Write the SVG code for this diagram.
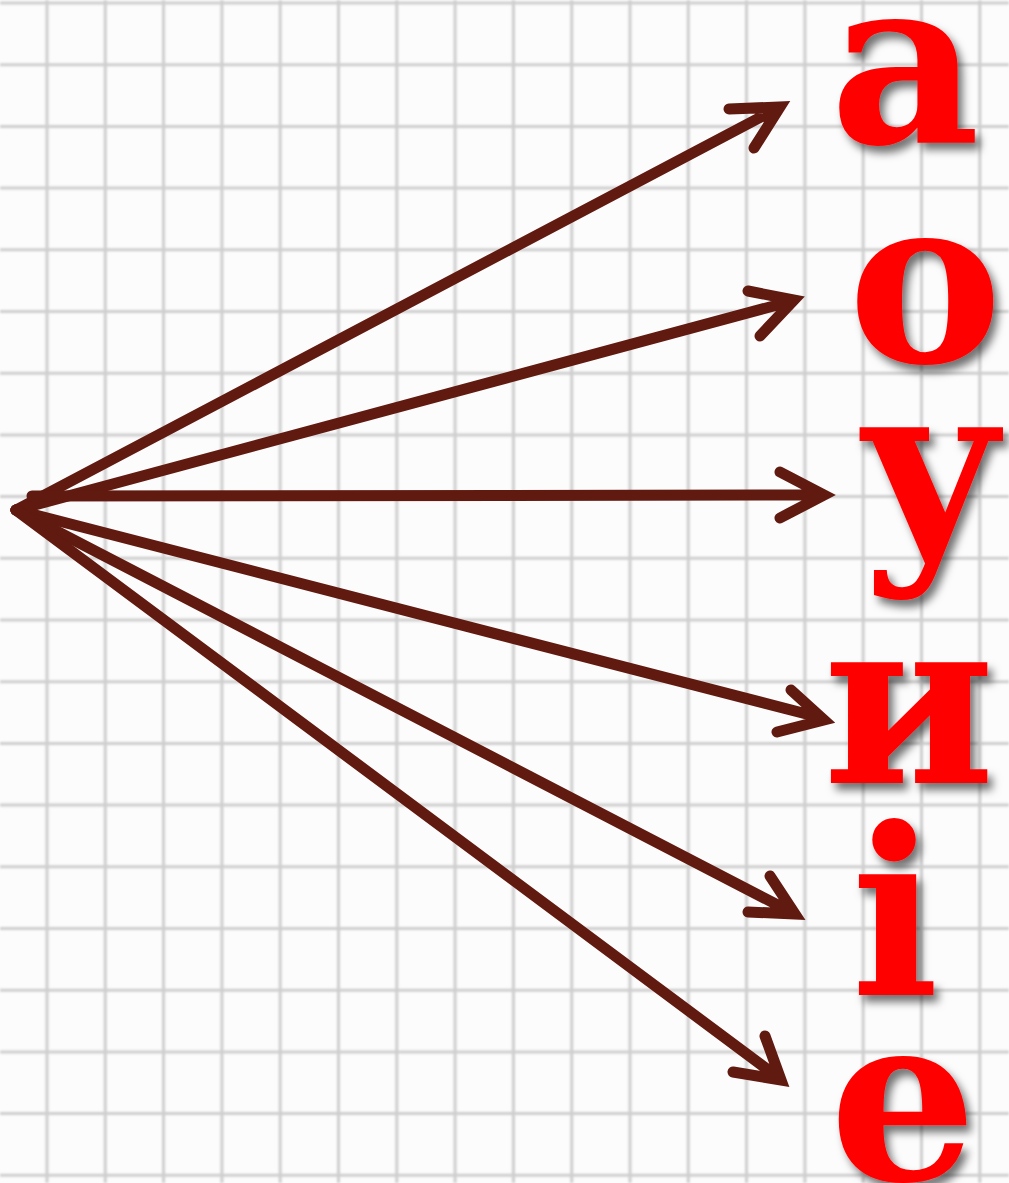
<svg xmlns="http://www.w3.org/2000/svg" width="1009" height="1183" viewBox="0 0 1009 1183">
<style>
.grid{stroke:#c6c6c6;stroke-width:3;fill:none;opacity:0.85}
.arr{stroke:#611a10;stroke-width:11;fill:none;stroke-linecap:round;stroke-linejoin:miter}
.let{font-family:"DejaVu Serif","Liberation Serif",serif;font-weight:bold;font-size:232px;fill:#ff0000;text-anchor:middle}
</style>
<defs>
<filter id="sh" x="-20%" y="-20%" width="150%" height="150%">
<feDropShadow dx="5" dy="7" stdDeviation="4" flood-color="#000" flood-opacity="0.55"/>
</filter>
<filter id="soft"><feGaussianBlur stdDeviation="0.8"/></filter>
</defs>
<rect width="1009" height="1183" fill="#fdfcfd"/>
<g id="grid" class="grid" filter="url(#soft)">
<path d="M47 0V1183M105.3 0V1183M163.6 0V1183M221.9 0V1183M280.2 0V1183M338.5 0V1183M396.8 0V1183M455.1 0V1183M513.4 0V1183M571.7 0V1183M630 0V1183M688.3 0V1183M746.6 0V1183M804.9 0V1183M863.2 0V1183M921.5 0V1183M979.8 0V1183"/>
<path d="M0 3H1009M0 64.7H1009M0 126.4H1009M0 188.1H1009M0 249.8H1009M0 311.5H1009M0 373.2H1009M0 434.9H1009M0 496.6H1009M0 558.3H1009M0 620H1009M0 681.7H1009M0 743.4H1009M0 805.1H1009M0 866.8H1009M0 928.5H1009M0 990.2H1009M0 1051.9H1009M0 1113.6H1009M0 1175.3H1009"/>
</g>
<g id="connectors" class="arr">
<path d="M16 510L778 108M729 109L780 107L754 148"/>
<path d="M16 510L792 301M748 291L794 300L760 336"/>
<path d="M32 496L822 495M780 472L824 495L780 518"/>
<path d="M16 510L822 718M791 690L824 720L777 732"/>
<path d="M16 510L793 913M770 876L795 914L748 912"/>
<path d="M16 510L779 1078M765 1036L781 1080L733 1072"/>
</g>
<g id="letter-a" filter="url(#sh)"><text class="let" x="905" y="143">а</text></g>
<g id="letter-o" filter="url(#sh)"><text class="let" x="925" y="362">о</text></g>
<g id="letter-u" filter="url(#sh)"><text class="let" x="931" y="548">у</text></g>
<g id="letter-y" filter="url(#sh)"><text class="let" x="909" y="783">и</text></g>
<g id="letter-i" filter="url(#sh)"><text class="let" x="895" y="995">і</text></g>
<g id="letter-e" filter="url(#sh)"><text class="let" x="903" y="1180">е</text></g>
</svg>
